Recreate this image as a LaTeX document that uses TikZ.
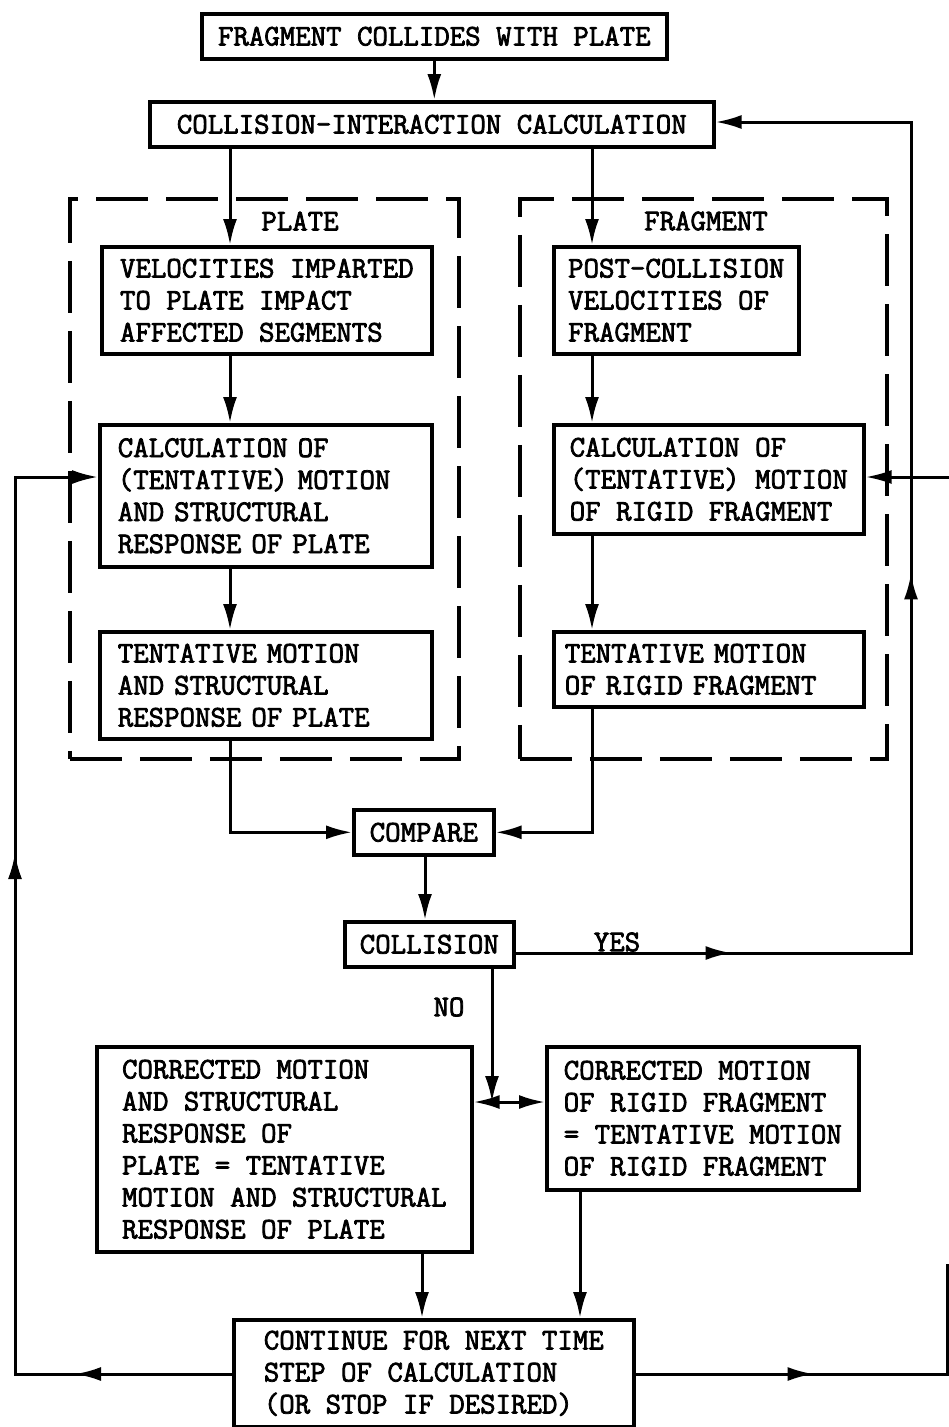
\documentclass[tikz,border=0pt]{standalone}
\usepackage{fontspec}
\newfontfamily\tw{Latin Modern Mono}[RawFeature={embolden=2.5}]
\usetikzlibrary{arrows.meta,decorations.markings}
\begin{document}
\begin{tikzpicture}[x=1pt,y=-1pt,
  txt/.style={font=\tw\fontsize{30}{32}\selectfont},
  box/.style={txt,draw,line width=3.6pt,anchor=north west,align=left,inner sep=0pt},
  dbox/.style={draw,line width=3.6pt,dash pattern=on 52pt off 18pt,anchor=north west,inner sep=0pt},
  lbl/.style={txt,inner sep=0pt},
  conn/.style={line width=3pt},
  arr/.style={-{Latex[length=26pt,width=14pt]}},
  darr/.style={{Latex[length=26pt,width=14pt]}-{Latex[length=26pt,width=14pt]}},
  midarr/.style={postaction={decorate,decoration={markings,mark=at position #1 with {\arrow{Latex[length=26pt,width=14pt]}}}}},
]
\path[use as bounding box] (0,0) rectangle (949,1427);

% column coordinates
\coordinate (cP) at (230,0);
\coordinate (cF) at (592,0);
\coordinate (cM) at (425,0);
\coordinate (cN) at (492,0);
\coordinate (cL) at (422,0);
\coordinate (cR) at (580,0);
\coordinate (yes) at (911,953);
\coordinate (top) at (911,122);
\coordinate (jn) at (492,1102);
\coordinate (bl) at (15,1374);
\coordinate (tl) at (15,477);
\coordinate (br) at (947,1374);
\coordinate (brt) at (947,1264);
\coordinate (re) at (949,477);

% dashed group boxes
\node[dbox,minimum width=389pt,minimum height=560pt] (pa) at (68,197) {};
\node[dbox,minimum width=367pt,minimum height=560pt] (fa) at (518,197) {};
\node[lbl] (plbl) at (300,221) {PLATE};
\node[lbl] (flbl) at (706,221) {FRAGMENT};

% boxes
\node[box,minimum width=465pt,minimum height=45pt] (b1) at (200,12) {FRAGMENT COLLIDES WITH PLATE};
\node[box,minimum width=564pt,minimum height=45pt] (b2) at (148,100) {COLLISION-INTERACTION CALCULATION};
\node[box,minimum width=330pt,minimum height=107pt] (vel) at (100,245) {VELOCITIES IMPARTED\\TO PLATE IMPACT\\AFFECTED SEGMENTS};
\node[box,minimum width=245pt,minimum height=107pt] (post) at (552,245) {POST-COLLISION\\VELOCITIES OF\\FRAGMENT};
\node[box,text width=296pt,inner xsep=18pt,minimum height=142pt] (pcalc) at (98,423) {CALCULATION OF\\(TENTATIVE) MOTION\\AND STRUCTURAL\\RESPONSE OF PLATE};
\node[box,minimum width=310pt,minimum height=109pt] (fcalc) at (552,423) {CALCULATION OF\\(TENTATIVE) MOTION\\OF RIGID FRAGMENT};
\node[box,text width=296pt,inner xsep=18pt,minimum height=107pt] (ptent) at (98,630) {TENTATIVE MOTION\\AND STRUCTURAL\\RESPONSE OF PLATE};
\node[box,text width=288pt,inner xsep=11pt,minimum height=75pt] (ftent) at (552,630) {TENTATIVE MOTION\\OF RIGID FRAGMENT};
\node[box,minimum width=140pt,minimum height=45pt] (cmp) at (352,808) {COMPARE};
\node[box,minimum width=169pt,minimum height=45pt] (coll) at (343,920) {COLLISION};
\node[box,minimum width=375pt,minimum height=205pt] (pcorr) at (95,1045) {CORRECTED MOTION\\AND STRUCTURAL\\RESPONSE OF\\PLATE = TENTATIVE\\MOTION AND STRUCTURAL\\RESPONSE OF PLATE};
\node[box,minimum width=312pt,minimum height=143pt] (fcorr) at (545,1045) {CORRECTED MOTION\\OF RIGID FRAGMENT\\= TENTATIVE MOTION\\OF RIGID FRAGMENT};
\node[box,minimum width=400pt,minimum height=107pt] (bot) at (232,1318) {CONTINUE FOR NEXT TIME\\STEP OF CALCULATION\\(OR STOP IF DESIRED)};

% labels
\node[lbl] (yeslbl) at (617,942) {YES};
\node[lbl] (nolbl) at (449,1007) {NO};

% connectors
\draw[conn,arr] (b1.south) -- (b1.south |- b2.north);
\draw[conn,arr] (b2.south -| cP) -- (vel.north -| cP);
\draw[conn,arr] (b2.south -| cF) -- (post.north -| cF);
\draw[conn,arr] (vel.south -| cP) -- (pcalc.north -| cP);
\draw[conn,arr] (pcalc.south -| cP) -- (ptent.north -| cP);
\draw[conn,arr] (post.south -| cF) -- (fcalc.north -| cF);
\draw[conn,arr] (fcalc.south -| cF) -- (ftent.north -| cF);
\draw[conn,arr] (ptent.south -| cP) |- (cmp.west);
\draw[conn,arr] (ftent.south -| cF) |- (cmp.east);
\draw[conn,arr] (cmp.south -| cM) -- (coll.north -| cM);
\draw[conn,arr,midarr=216pt,midarr=775pt] (coll.east |- yes) -- (yes) -- (top) -- (b2.east |- top);
\draw[conn,arr] (re) -- (fcalc.east |- re);
\draw[conn,arr] (coll.south -| cN) -- (jn);
\draw[conn,darr] (pcorr.east |- jn) -- (fcorr.west |- jn);
\draw[conn,arr] (pcorr.south -| cL) -- (bot.north -| cL);
\draw[conn,arr] (fcorr.south -| cR) -- (bot.north -| cR);
\draw[conn,arr,midarr=157pt,midarr=738pt] (bot.west |- bl) -- (bl) -- (tl) -- (pcalc.west |- tl);
\draw[conn,midarr=178pt] (bot.east |- br) -- (br) -- (brt);
\end{tikzpicture}
\end{document}
